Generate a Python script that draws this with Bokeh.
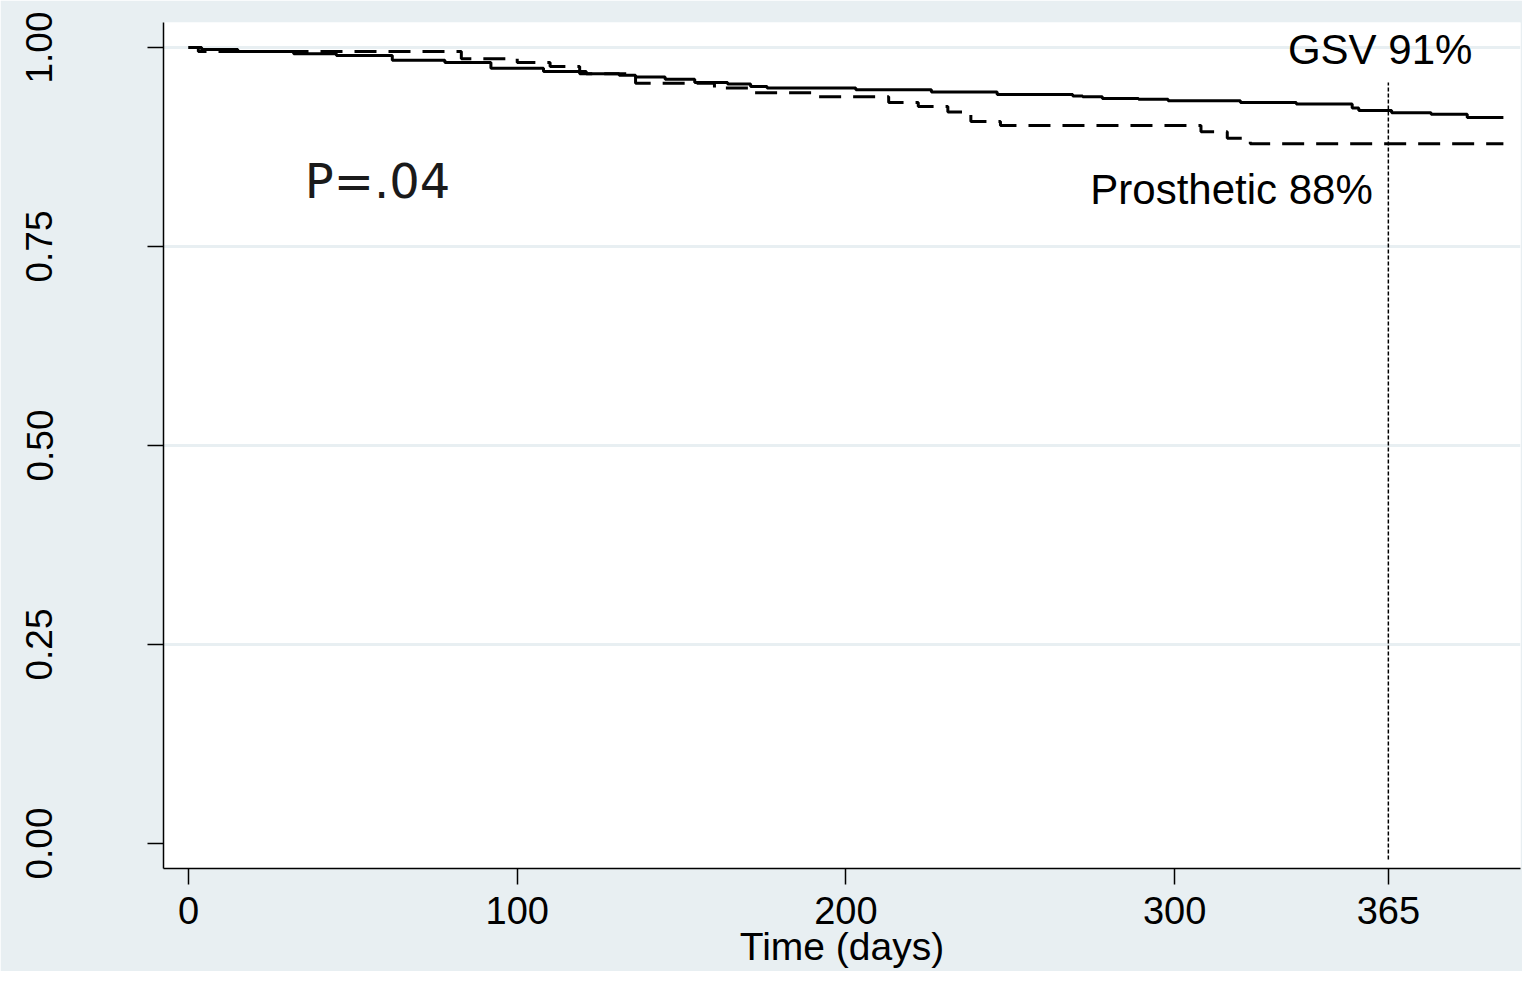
from bokeh.plotting import figure
from bokeh.models import FixedTicker, Range1d, ColumnDataSource
from bokeh.core.properties import value
from bokeh.embed import file_html
from bokeh.resources import INLINE

# ---- data ----
gsv_days = [0, 4, 15, 32, 45, 62, 78, 92, 108, 121, 131, 136, 145, 154, 164, 171, 176,
            203, 226, 246, 269, 272, 278, 289, 298, 320, 337, 354, 356, 366, 378, 389, 400]
gsv_surv = [1.000, 0.9975, 0.995, 0.992, 0.990, 0.984, 0.981, 0.974, 0.970, 0.967, 0.965,
            0.963, 0.960, 0.956, 0.954, 0.951, 0.949, 0.947, 0.944, 0.941, 0.939, 0.938,
            0.936, 0.935, 0.933, 0.931, 0.929, 0.924, 0.921, 0.918, 0.916, 0.912, 0.912]

pros_days = [0, 3, 83, 100, 110, 119, 136, 160, 172, 190, 213, 222, 231, 238, 247,
             308, 316, 323, 400]
pros_surv = [1.000, 0.995, 0.986, 0.981, 0.976, 0.967, 0.955, 0.949, 0.943, 0.938, 0.931,
             0.926, 0.919, 0.907, 0.902, 0.894, 0.886, 0.879, 0.879]

x_ticks = [0, 100, 200, 300, 365]
y_ticks = [0.0, 0.25, 0.5, 0.75, 1.0]
y_tick_labels = ["0.00", "0.25", "0.50", "0.75", "1.00"]
grid_ticks = [0.25, 0.5, 0.75, 1.0]

marker_day = 365
marker_top = 0.956
marker_bottom = -0.020

labels_text = ["GSV 91%", "Prosthetic 88%"]
labels_x = [362.5, 317.3]
labels_y = [0.9975, 0.8222]
pval_text = ["P=.04"]
pval_x = [57.5]
pval_y = [0.8317]

x_title = "Time (days)"

BG = "#e8eff2"
FONT = "Liberation Sans"

p = figure(width=1522, height=971,
           x_range=Range1d(-7.6, 405.2), y_range=Range1d(-0.0314, 1.0314),
           output_backend="svg", toolbar_location=None,
           min_border_left=163, min_border_right=2, min_border_top=22,
           min_border_bottom=103)
p.background_fill_color = "white"
p.border_fill_color = BG
p.outline_line_color = None

# grid
p.xgrid.visible = False
p.ygrid.ticker = FixedTicker(ticks=grid_ticks)
p.ygrid.grid_line_color = BG
p.ygrid.grid_line_width = 3

# axes
for ax in (p.xaxis[0], p.yaxis[0]):
    ax.axis_line_color = "black"
    ax.axis_line_width = 1.5
    ax.major_tick_line_color = "black"
    ax.major_tick_line_width = 1.5
    ax.major_tick_out = 16
    ax.major_tick_in = 0
    ax.minor_tick_out = 0
    ax.minor_tick_in = 0
    ax.major_label_text_font = FONT
    ax.major_label_text_color = "black"

p.xaxis.ticker = FixedTicker(ticks=x_ticks)
p.xaxis.major_label_text_font_size = "38px"
p.xaxis.major_label_standoff = 12
p.xaxis.axis_label = x_title
p.xaxis.axis_label_text_font = FONT
p.xaxis.axis_label_text_font_size = "39px"
p.xaxis.axis_label_text_font_style = "normal"
p.xaxis.axis_label_text_color = "black"
p.xaxis.axis_label_standoff = -2

p.yaxis.ticker = FixedTicker(ticks=y_ticks)
p.yaxis.major_label_overrides = {t: s for t, s in zip(y_ticks, y_tick_labels)}
p.yaxis.major_label_orientation = "vertical"
p.yaxis.major_label_text_font_size = "37px"
p.yaxis.major_label_standoff = 95

# survival curves
p.step(gsv_days, gsv_surv, mode="after", line_color="black", line_width=3)
p.step(pros_days, pros_surv, mode="after", line_color="black", line_width=3,
       line_dash="22 12")

# 1-year marker
p.segment(x0=[marker_day], y0=[marker_bottom], x1=[marker_day], y1=[marker_top],
          line_color="black", line_width=1.5, line_dash="4 2")

# annotations
src = ColumnDataSource(dict(x=labels_x, y=labels_y, t=labels_text))
p.text(x="x", y="y", text="t", source=src, text_font=value(FONT),
       text_font_size="42px", text_align="center", text_baseline="alphabetic",
       text_color="black")
p.text(x=pval_x, y=pval_y, text=pval_text, text_font=value("DejaVu Sans"),
       text_font_size="48px", text_align="center", text_baseline="alphabetic",
       text_color="#1a1a1a")

open("out.html", "w").write(file_html(p, INLINE))
